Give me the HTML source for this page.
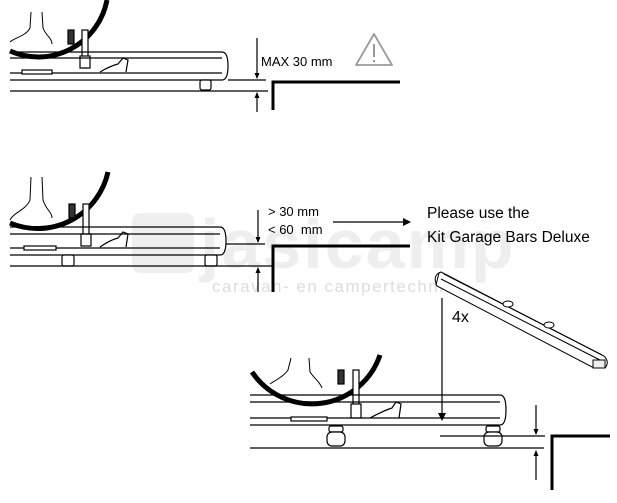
<!DOCTYPE html>
<html><head><meta charset="utf-8"><style>
html,body{margin:0;padding:0;background:#fff;}
svg{display:block;}
text{font-family:"Liberation Sans",sans-serif;}
</style></head><body>
<svg width="617" height="503" viewBox="0 0 617 503" xmlns="http://www.w3.org/2000/svg">
<defs>
<marker id="ah" markerWidth="8" markerHeight="8" refX="7" refY="4" orient="auto" markerUnits="userSpaceOnUse"><path d="M0,0 L8,4 L0,8z" fill="#000"/></marker>
<marker id="sa" markerWidth="6" markerHeight="6" refX="5" refY="3" orient="auto" markerUnits="userSpaceOnUse"><path d="M0,0.5 L6,3 L0,5.5z" fill="#000"/></marker>
</defs>

<!-- watermark -->
<g fill="#efefef">
<rect x="132" y="213" width="62" height="60" rx="8"/>
<text x="200" y="268" font-size="70" font-weight="bold" fill="#eeeeee" letter-spacing="2">jasicamp</text>
<text x="212" y="292" font-size="17" fill="#dddddd" letter-spacing="1.5">caravan- en campertechniek</text>
</g>

<!-- Panel 1 -->
<g stroke="#000" fill="none" stroke-width="1.2">
<path d="M10,42 C14,38 26,36 30,28 L31,12 M42,12 L43,28 C46,36 52,38 52,44" stroke-width="1"/>
<path d="M10,51 A70,70 0 0 0 107,0" stroke-width="5"/>
<rect x="68" y="30" width="6" height="14" fill="#333"/>
<rect x="82" y="30" width="6" height="38" fill="#fff"/>
<rect x="80" y="56" width="10" height="12" fill="#fff"/>
<path d="M10,52 H222 M10,58 H222 M10,73 H222 M10,80 H222"/>
<path d="M222,52 Q228,52 228,66 Q228,80 222,80" fill="#fff"/>
<path d="M100,72 Q110,66 118,64 L123,58 L128,60 L126,72"/>
<rect x="22" y="70" width="30" height="4" fill="#fff"/>
<rect x="200" y="80" width="11" height="10" rx="2" fill="#fff"/>
<path d="M10,91 H268"/>
<path d="M228,80 H266"/>
<path d="M257,38 V78" marker-end="url(#sa)"/>
<path d="M257,112 V93" marker-end="url(#sa)"/>
<path d="M273,110 V82 H400" stroke-width="3"/>
</g>
<text x="261" y="66" font-size="13">MAX 30 mm</text>
<path d="M374,34 L392,65 L356,65 Z" fill="none" stroke="#999" stroke-width="1.8" stroke-linejoin="round"/>
<path d="M374,44 V57 M374,60 V62" stroke="#999" stroke-width="2"/>

<!-- Panel 2 -->
<g stroke="#000" fill="none" stroke-width="1.2">
<path d="M10,220 C14,212 26,210 30,200 L31,177 M42,177 L43,200 C46,210 52,212 52,218" stroke-width="1"/>
<path d="M10,223 A72,72 0 0 0 108,172" stroke-width="5"/>
<rect x="69" y="204" width="6" height="14" fill="#333"/>
<rect x="83" y="204" width="6" height="38" fill="#fff"/>
<rect x="81" y="234" width="10" height="12" fill="#fff"/>
<path d="M10,227 H220 M10,234 H220 M10,248 H220 M10,255 H220"/>
<path d="M220,227 Q226,227 226,241 Q226,255 220,255" fill="#fff"/>
<path d="M100,247 Q110,240 118,238 L123,232 L128,234 L126,247"/>
<rect x="24" y="246" width="32" height="4" fill="#fff"/>
<rect x="62" y="255" width="12" height="11" rx="2" fill="#fff"/>
<rect x="205" y="255" width="12" height="11" rx="2" fill="#fff"/>
<path d="M10,266 H272"/>
<path d="M226,244 H265"/>
<path d="M258,210 V242" marker-end="url(#sa)"/>
<path d="M258,292 V268" marker-end="url(#sa)"/>
<path d="M273,292 V246 H410" stroke-width="3"/>
<path d="M333,222 H410" marker-end="url(#ah)"/>
</g>
<text x="268" y="216" font-size="13">&gt; 30 mm</text>
<text x="268" y="234" font-size="13">&lt; 60&#160; mm</text>
<text x="427" y="218" font-size="15.5">Please use the</text>
<text x="427" y="242" font-size="15.5">Kit Garage Bars Deluxe</text>

<!-- Bar -->
<g stroke="#000" stroke-width="1" fill="#fff">
<path d="M441,272 L604,356 Q610,362 605,368 L594,368 L437,286 Q432,275 441,272 Z"/>
<path d="M439,273 L436,285 M444,274 L602,355 M441,279 L600,360"/>
<ellipse cx="508" cy="304" rx="5" ry="3"/>
<ellipse cx="549" cy="325" rx="5" ry="3"/>
<path d="M593,360 L605,360 L605,368 L593,368 Z" fill="#eee"/>
</g>
<path d="M442,298 V420" stroke="#000" stroke-width="1.2" marker-end="url(#ah)"/>
<text x="452" y="322" font-size="16">4x</text>

<!-- Panel 3 -->
<g stroke="#000" fill="none" stroke-width="1.2">
<path d="M270,384 C276,380 284,376 288,370 L291,358 M309,358 L310,372 C314,378 320,382 322,388" stroke-width="1"/>
<path d="M252,372 A72,72 0 0 0 380,355" stroke-width="5"/>
<rect x="338" y="370" width="6" height="14" fill="#333"/>
<rect x="353" y="370" width="6" height="45" fill="#fff"/>
<rect x="351" y="404" width="10" height="14" fill="#fff"/>
<path d="M250,395 H500 M250,402 H500 M250,418 H500 M250,425 H500"/>
<path d="M500,395 Q506,395 506,410 Q506,425 500,425" fill="#fff"/>
<path d="M370,418 Q385,410 392,408 L396,402 L401,404 L399,418"/>
<rect x="291" y="417" width="36" height="4" fill="#fff"/>
<rect x="329" y="426" width="14" height="6" rx="2" fill="#fff"/>
<rect x="327" y="432" width="18" height="14" rx="5" fill="#fff"/>
<rect x="486" y="426" width="14" height="6" rx="2" fill="#fff"/>
<rect x="484" y="432" width="18" height="14" rx="5" fill="#fff"/>
<path d="M250,448 H544"/>
<path d="M440,436 H545"/>
<path d="M536,405 V434" marker-end="url(#sa)"/>
<path d="M536,480 V451" marker-end="url(#sa)"/>
<path d="M552,490 V436 H610" stroke-width="3"/>
</g>
</svg>
</body></html>
